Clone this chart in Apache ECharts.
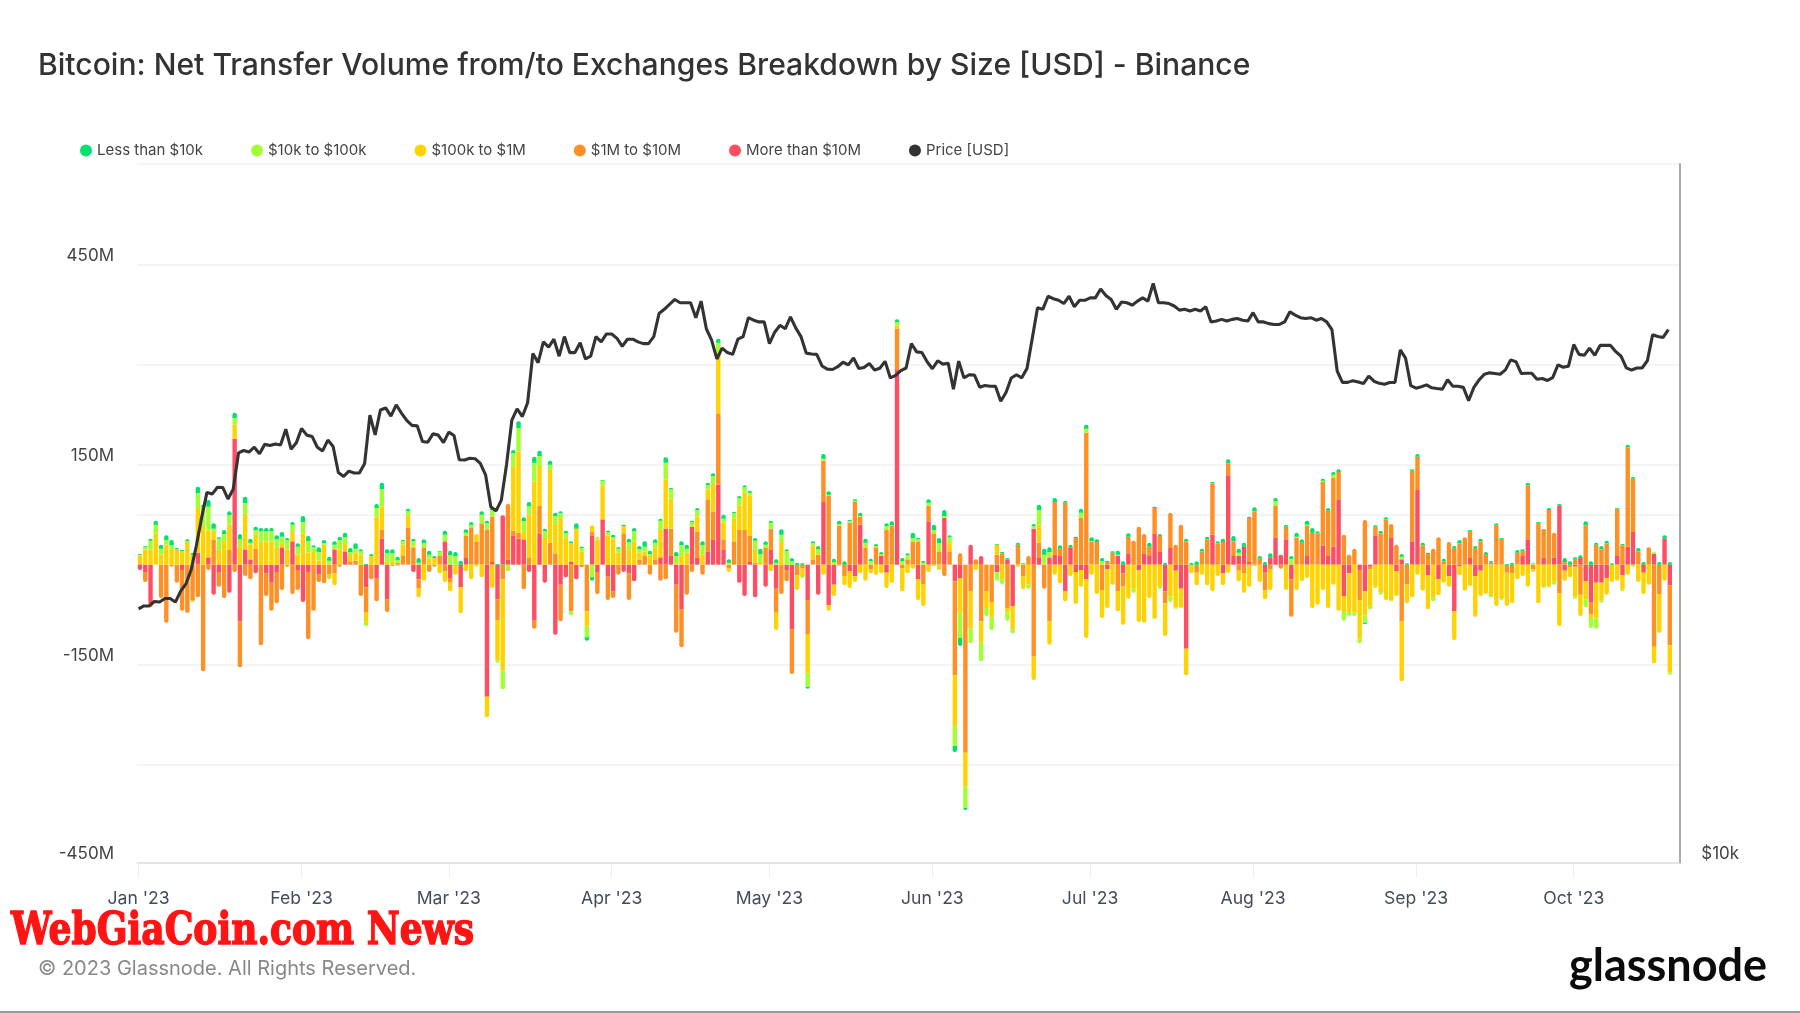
<!DOCTYPE html>
<html>
<head>
<meta charset="utf-8">
<title>Net Transfer Volume</title>
<style>
  html, body { margin: 0; padding: 0; background: #fff; }
  #chart { width: 1800px; height: 1013px; }
</style>
<script src="https://cdn.jsdelivr.net/npm/echarts@6/dist/echarts.min.js"></script>
</head>
<body>
<div id="chart"></div>
<script>
// daily net transfer volume per size bracket, in $M (from 2023-01-01)
const moreThan10M = [
  -8,-11,-58,0,0,0,0,0,-8,0,
  0,18,0,11,-45,-12,0,-42,189,-85,
  23,8,-13,0,-13,-27,-11,26,0,35,
  -8,-56,-11,0,-15,0,0,23,0,20,
  0,0,0,-34,0,-21,39,-52,0,0,
  0,0,-11,-22,0,0,0,0,35,-20,
  0,-34,10,0,0,0,-198,4,-52,74,
  8,43,39,38,-11,-84,47,-27,0,-105,
  -30,-19,4,-22,0,0,43,-12,68,-18,
  -40,0,-11,-13,-25,0,0,0,0,11,
  54,13,-30,-67,0,57,10,0,20,38,
  120,22,0,0,-27,-47,4,-49,0,-33,
  22,-36,0,-8,-97,0,0,-53,0,-45,
  94,-61,-30,0,0,-10,-17,60,0,0,
  0,13,-12,0,293,0,0,0,-22,0,
  65,0,0,70,0,-25,-20,0,30,0,
  13,0,0,-11,0,8,-62,0,0,0,
  54,10,0,11,15,13,-40,26,-11,-8,
  -22,0,0,0,-7,0,13,-13,17,0,
  -8,17,13,47,20,-40,25,-9,-36,-126,
  0,0,0,0,45,0,-13,134,13,13,
  27,4,0,0,-12,11,40,13,38,-22,
  0,0,13,0,0,29,13,27,98,-47,
  -13,0,-8,-40,-3,44,0,0,40,-10,
  8,0,35,112,0,-16,0,-22,0,-17,
  -70,-2,0,10,-17,-9,0,0,0,0,
  0,0,0,13,38,0,0,11,0,11,
  89,-9,0,-3,10,-25,-57,-27,-27,-20,
  0,13,-16,27,49,0,-12,0,16,0,
  39,-31
]
const from1Mto10M = [
  2,-15,-6,0,-50,-87,-3,-27,-61,-72,
  -54,-49,-160,-8,38,-21,-50,22,-11,-69,
  -17,-22,24,-121,-34,-42,-47,-38,-3,-44,
  -30,0,-101,-69,-11,-28,-14,-13,-3,0,
  5,6,-47,-38,-22,-34,14,-19,-2,3,
  13,56,25,-13,26,-11,-3,13,-10,-7,
  0,0,33,56,35,62,53,68,-31,-22,
  83,8,9,-37,10,-12,41,0,33,17,
  -55,0,-70,0,-4,-70,6,-32,0,-35,
  -10,-15,47,-40,0,8,13,-15,8,-24,
  -22,41,-72,-57,-45,-11,39,-15,78,42,
  107,16,-5,35,52,52,39,3,0,25,
  32,-36,-44,-17,-67,-16,-6,-52,8,15,
  62,103,0,58,-17,63,94,12,25,-7,
  25,0,52,58,61,-5,8,35,34,-30,
  23,47,20,-17,20,-141,17,-282,-40,8,
  -85,-40,-56,15,17,-65,0,30,-17,13,
  -138,23,-36,-85,79,11,93,0,40,70,
  198,34,34,-38,4,18,-40,-20,25,36,
  57,29,14,38,23,-18,53,30,60,35,
  0,-12,20,38,77,32,34,18,22,-9,
  -13,66,80,9,-26,-7,48,-6,19,-56,
  40,33,45,48,47,95,68,103,41,45,
  14,24,-45,67,-4,13,47,68,21,30,
  -85,-30,106,50,29,16,24,41,5,34,
  24,32,41,41,24,35,15,3,59,39,
  -12,-13,18,8,81,-7,63,41,82,37,
  -43,4,-4,9,-45,59,-17,30,23,32,
  0,71,29,149,80,20,0,26,-123,-44,
  0,-90
]
const from100kto1M = [
  12,23,23,47,15,30,22,22,20,34,
  15,67,58,40,11,22,35,38,21,25,
  53,22,21,35,35,35,25,7,23,14,
  15,47,18,19,6,30,-8,-18,23,11,
  8,12,15,-14,13,72,34,5,5,-2,
  17,18,2,-14,-24,9,10,-13,-16,-13,
  -15,-39,-10,-22,11,-19,-31,-35,-61,-137,
  0,97,122,11,65,125,60,40,109,44,
  70,40,28,54,20,-23,10,38,51,44,
  38,18,11,22,35,10,7,13,17,41,
  74,45,0,13,18,2,23,15,15,41,
  91,25,-6,34,37,56,61,19,4,0,
  -10,-26,34,0,0,-22,-11,-58,21,0,
  -15,-8,-17,-2,-14,-25,-9,-13,-24,-6,
  -15,-13,-23,-27,5,-35,-13,-6,-31,-32,
  -11,-2,-8,0,11,-77,-52,-51,-56,-8,
  -32,-25,-23,15,-22,-7,-35,-3,-20,-30,
  -35,27,0,-35,-15,-28,-15,-17,-48,-25,
  -88,-15,-44,-42,-58,-30,-30,-57,-51,-36,
  -78,-87,-50,-80,-32,-49,-48,-55,-29,-40,
  -13,-19,-15,-31,-40,-17,-18,-12,0,-16,
  -29,-33,-2,-26,-14,-31,0,0,-38,0,
  -38,-25,-20,-65,-60,-38,-65,-30,-69,-24,
  -58,-72,-58,-36,-55,-33,-42,-53,-54,-37,
  -90,-28,-48,-15,-39,-51,-49,-24,-27,-16,
  -43,-14,-39,-32,-61,-38,-44,-47,-62,-50,
  -50,-45,-22,-17,-33,-4,-58,-32,-34,-25,
  -49,-15,-15,-45,-32,-27,-6,-54,-27,-25,
  -26,-24,-21,-15,0,-26,-32,-30,-25,-58,
  -24,-41
]
const from10kto100k = [
  1,4,13,13,9,7,7,1,0,1,
  -2,22,29,36,5,17,11,14,10,13,
  16,3,7,15,15,15,13,9,14,11,
  12,17,17,7,13,2,6,7,14,10,
  6,6,5,-6,0,13,26,12,12,4,
  5,6,8,3,6,6,0,6,10,14,
  13,0,5,4,-3,13,9,10,-3,-28,
  -10,19,35,16,13,28,15,10,8,12,
  7,7,-6,0,5,-16,-19,4,7,5,
  3,6,0,12,15,5,7,3,8,14,
  25,14,13,16,6,5,10,14,6,12,
  15,6,3,8,11,8,4,14,12,5,
  9,3,11,20,5,0,-3,-20,3,8,
  3,2,4,3,0,2,2,1,8,5,
  3,3,6,1,5,5,6,5,4,3,
  5,5,12,3,10,-29,-38,-32,-22,0,
  -28,-12,-19,-13,-7,-12,-6,0,1,-6,
  4,22,15,8,0,0,0,0,0,8,
  6,1,0,5,0,0,2,0,0,-6,
  0,0,0,-1,-4,0,-8,-2,0,0,
  0,0,0,0,0,0,0,0,0,5,
  0,0,0,0,0,0,7,0,0,9,
  2,0,2,0,0,2,0,5,0,-13,
  -6,-5,-7,-11,-5,-2,-3,0,-1,0,
  4,0,-1,0,0,0,-6,0,0,0,
  0,0,0,0,0,0,0,-2,0,-3,
  0,0,0,0,0,2,0,-3,0,-5,
  0,0,0,-3,0,-12,-15,-15,-3,0,
  0,0,-3,0,-3,0,0,0,3,0,
  0,-3
]
const lessThan10k = [
  1,1,3,6,6,7,8,2,2,3,
  3,10,3,10,8,2,6,6,8,8,
  10,6,5,5,5,5,6,7,3,4,
  5,9,8,3,7,5,6,5,5,7,
  6,8,3,1,3,6,10,6,6,5,
  2,4,4,7,6,6,3,1,6,7,
  6,6,5,4,0,5,4,4,1,0,
  0,5,10,6,6,9,8,4,6,5,
  3,4,3,8,2,-5,-5,0,1,2,
  4,2,2,5,5,5,8,5,5,3,
  8,2,6,6,6,2,3,6,4,4,
  6,6,5,2,3,3,3,4,8,5,
  3,5,8,3,5,3,2,-3,3,5,
  7,5,5,5,5,2,2,5,6,4,
  3,3,4,6,4,5,3,8,2,3,
  5,8,8,9,3,-9,-12,-3,0,0,
  0,0,0,1,2,2,0,3,1,0,
  3,8,9,7,6,5,3,4,2,6,
  6,6,4,5,2,2,6,5,5,0,
  0,0,6,2,3,3,0,0,0,4,
  3,5,4,4,2,3,5,6,8,6,
  6,2,6,4,4,6,5,2,3,4,
  6,5,6,7,3,3,4,4,4,0,
  1,0,0,-2,0,2,4,3,0,0,
  4,2,2,4,4,2,0,0,4,0,
  4,5,0,1,4,4,4,3,3,1,
  1,3,4,2,4,1,1,1,3,0,
  2,6,5,2,4,6,5,3,5,4,
  2,1,2,4,3,5,4,0,0,4,
  5,4
]
// BTC price in $k, one value per day
const priceK = [
  16.6,16.7,16.7,16.85,16.83,16.95,16.95,16.83,17.2,17.45,17.95,18.85,19.93,20.95,20.88,21.17,21.16,20.68,21.08,22.67,22.78,22.71,22.93,22.63,23.06,23.01,23.08,23.03,23.77,22.84,23.13,
  23.8,23.49,23.43,22.93,22.76,23.26,22.96,21.8,21.63,21.86,21.78,21.78,22.2,24.45,23.5,24.7,24.8,24.4,24.95,24.55,24.19,23.95,23.93,23.19,23.16,23.55,23.49,23.14,
  23.63,23.47,22.36,22.35,22.43,22.41,22.2,21.7,20.36,20.19,20.63,22.16,24.2,24.75,24.38,25.06,27.65,27.15,28.3,28.0,28.45,27.5,28.6,27.7,27.7,28.25,27.35,27.5,28.6,28.3,28.75,
  28.75,28.5,28.05,28.45,28.45,28.3,28.2,28.2,28.6,29.95,30.2,30.5,30.8,30.6,30.6,30.6,29.7,30.7,29.05,28.4,27.35,27.95,27.7,27.6,28.45,28.6,29.7,29.55,29.45,29.45,
  28.2,28.85,29.25,29.05,29.75,29.1,28.6,27.67,27.62,27.6,26.97,26.8,26.78,26.93,27.17,27.03,27.4,26.83,26.89,27.1,26.75,26.85,27.22,26.33,26.47,26.72,26.86,28.2,27.74,27.7,27.2,
  26.82,27.25,27.07,27.12,25.75,27.23,26.34,26.5,26.48,25.85,25.94,25.9,25.9,25.13,25.58,26.33,26.5,26.34,26.84,28.5,30.3,30.2,31.0,30.85,30.75,30.55,31.0,30.35,30.75,30.75,
  30.9,30.9,31.45,31.05,30.8,30.2,30.65,30.6,30.45,30.7,30.9,30.7,31.8,30.6,30.6,30.55,30.4,30.15,30.2,30.1,30.2,30.1,30.35,29.45,29.5,29.6,29.5,29.6,29.65,29.55,29.5,
  30.0,29.45,29.45,29.35,29.3,29.3,29.45,30.05,29.85,29.7,29.65,29.7,29.55,29.65,29.45,29.0,26.7,26.1,26.1,26.19,26.12,26.04,26.43,26.16,26.05,26.0,26.09,26.1,27.85,27.4,25.93,
  25.8,25.87,25.97,25.82,25.78,25.75,26.24,25.9,25.9,25.84,25.16,25.84,26.23,26.53,26.6,26.57,26.53,26.76,27.3,27.2,26.57,26.58,26.58,26.26,26.3,26.2,26.35,27.03,26.9,26.96,
  28.15,27.6,27.55,27.95,27.55,28.1,28.1,28.1,27.75,27.5,26.87,26.75,26.86,26.86,27.25,28.7,28.6,28.55,29.0
]
const tickDates = ['2023-01-01','2023-02-01','2023-03-01','2023-04-01','2023-05-01','2023-06-01','2023-07-01','2023-08-01','2023-09-01','2023-10-01']
const yLabels = { '-447': '-450M', '-150': '-150M', '150': '150M', '450': '450M' }
const yGridValues = [-447, -300, -150, 75, 150, 300, 450, 601]

const DAY = 86400000
const START = Date.parse('2023-01-01')
const BAR_SHIFT = 0.27 // the bars sit a touch right of the tick

// stacking goes out from zero, biggest bracket first
const bracketSeries = [
  { name: 'More than $10M', color: '#ff4d63', values: moreThan10M },
  { name: '$1M to $10M', color: '#ff9025', values: from1Mto10M },
  { name: '$100k to $1M', color: '#ffd300', values: from100kto1M },
  { name: '$10k to $100k', color: '#a2ff33', values: from10kto100k },
  { name: 'Less than $10k', color: '#00e16f', values: lessThan10k }
]

function capRadius(seriesIndex, day) {
  const v = bracketSeries[seriesIndex].values[day]
  for (let k = seriesIndex + 1; k < bracketSeries.length; k++) {
    if (bracketSeries[k].values[day] * v > 0) return 0
  }
  return v > 0 ? [2, 2, 0, 0] : [0, 0, 2, 2]
}

const series = bracketSeries.map((s, si) => ({
  name: s.name,
  type: 'bar',
  stack: 'flow',
  barWidth: 4.4,
  itemStyle: { color: s.color },
  data: s.values.map((v, i) => ({
    value: [START + (i + BAR_SHIFT) * DAY, v],
    itemStyle: { borderRadius: capRadius(si, i) }
  }))
}))

series.push({
  name: 'Price [USD]',
  type: 'line',
  yAxisIndex: 1,
  showSymbol: false,
  z: 5,
  lineStyle: { color: '#333333', width: 3.1 },
  itemStyle: { color: '#333333' },
  data: priceK.map((p, i) => [START + i * DAY, p])
})

const chart = echarts.init(document.getElementById('chart'))
const FONT = 'Inter'
const tickTimes = tickDates.map(d => Date.parse(d))

chart.setOption({
  animation: false,
  useUTC: true,
  backgroundColor: '#ffffff',
  textStyle: { fontFamily: FONT },
  title: {
    text: 'Bitcoin: Net Transfer Volume from/to Exchanges Breakdown by Size [USD] - Binance',
    left: 38,
    top: 51,
    padding: 0,
    textStyle: { fontSize: 30.1, fontWeight: 500, color: '#333333', fontFamily: FONT }
  },
  legend: {
    left: 75,
    top: 138,
    icon: 'circle',
    itemWidth: 12,
    itemHeight: 12,
    itemGap: 48,
    textStyle: { fontSize: 15, color: '#444444', fontFamily: FONT },
    data: ['Less than $10k', '$10k to $100k', '$100k to $1M', '$1M to $10M', 'More than $10M', 'Price [USD]']
  },
  grid: { left: 137, right: 120.7, top: 164, bottom: 150.3 },
  xAxis: {
    type: 'time',
    // echarts pads a bar axis by half a bar each side, these limits allow for that
    min: START + 0.114 * DAY,
    max: START + 292.66 * DAY,
    axisLine: { onZero: false, lineStyle: { color: '#dddddd', width: 1.5 } },
    axisTick: {
      show: true,
      length: 15,
      lineStyle: { color: '#eeeeee' },
      customValues: tickTimes
    },
    splitLine: { show: false },
    axisLabel: {
      fontSize: 17.6,
      color: '#434c5e',
      margin: 27,
      fontFamily: FONT,
      customValues: tickTimes,
      formatter: "{MMM} '{yy}"
    }
  },
  yAxis: [
    {
      type: 'value',
      min: -447,
      max: 601,
      axisLine: { show: false },
      axisTick: { show: false, customValues: yGridValues },
      splitLine: { show: true, lineStyle: { color: '#f1f1f1', width: 1.5 } },
      axisLabel: {
        fontSize: 17,
        color: '#444444',
        margin: 23,
        verticalAlign: 'bottom',
        fontFamily: FONT,
        customValues: [-447, -150, 150, 450],
        formatter: v => yLabels[v] || ''
      }
    },
    {
      type: 'log',
      min: 10,
      max: 40.37,
      position: 'right',
      axisLine: { show: true, lineStyle: { color: '#aaaaaa', width: 2 } },
      axisTick: { show: false },
      splitLine: { show: false },
      axisLabel: {
        fontSize: 17,
        color: '#444444',
        margin: 22,
        verticalAlign: 'bottom',
        fontFamily: FONT,
        formatter: v => (Math.round(v) === 10 ? '$10k' : '')
      }
    }
  ],
  series: series,
  graphic: [
    {
      type: 'text',
      left: 38,
      top: 959,
      style: { text: '© 2023 Glassnode. All Rights Reserved.', font: '400 20px Inter', fill: '#888888' }
    },
    {
      type: 'text',
      x: 11,
      y: 911,
      scaleX: 0.82,
      style: { text: 'WebGiaCoin.com News', font: '900 44px "DejaVu Serif"', fill: '#ff1414', stroke: '#ff1414', lineWidth: 1.5 }
    },
    {
      type: 'text',
      left: 1569,
      top: 944,
      style: { text: 'glassnode', font: '700 45px Lato', fill: '#0b0b0b' }
    },
    {
      type: 'line',
      shape: { x1: 0, y1: 1012, x2: 1800, y2: 1012 },
      style: { stroke: '#777777', lineWidth: 1.5 }
    }
  ]
})
</script>
</body>
</html>
